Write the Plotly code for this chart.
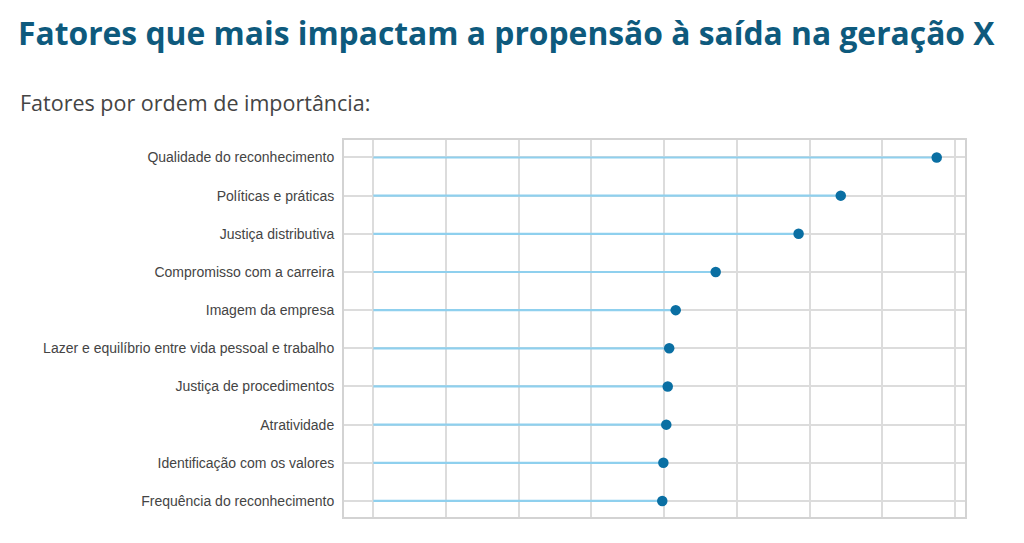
import plotly.graph_objects as go

categories = [
    "Qualidade do reconhecimento",
    "Políticas e práticas",
    "Justiça distributiva",
    "Compromisso com a carreira",
    "Imagem da empresa",
    "Lazer e equilíbrio entre vida pessoal e trabalho",
    "Justiça de procedimentos",
    "Atratividade",
    "Identificação com os valores",
    "Frequência do reconhecimento",
]
importance = [0.155, 0.1286, 0.117, 0.0942, 0.0832, 0.0814, 0.0810, 0.0806, 0.0798, 0.0795]
grid_ticks = [0, 0.02, 0.04, 0.06, 0.08, 0.10, 0.12, 0.14, 0.16]

title_text = "Fatores que mais impactam a propensão à saída na geração X"
subtitle_text = "Fatores por ordem de importância:"

OFF = 8  # page body margin
W, H = 1024 - OFF, 543 - OFF
L, R, T, B = 344 - OFF, 59, 139.5 - OFF, 26

stem_x, stem_y = [], []
for c, v in zip(categories, importance):
    stem_x += [0, v, None]
    stem_y += [c, c, None]

fig = go.Figure()
fig.add_trace(go.Scatter(
    x=stem_x, y=stem_y, mode="lines",
    line=dict(color="#8fd0ee", width=2.2),
    hoverinfo="skip", showlegend=False,
))
fig.add_trace(go.Scatter(
    x=importance, y=categories, mode="markers",
    marker=dict(color="#0a6fa3", size=10.5, line=dict(width=0)),
    showlegend=False,
))

fig.update_layout(
    width=W, height=H,
    margin=dict(l=L, r=R, t=T, b=B),
    paper_bgcolor="white", plot_bgcolor="white",
    title=dict(
        text=f"<b>{title_text}</b>",
        font=dict(family="Open Sans", size=31.8, color="#0e5a7d"),
        xref="container", yref="container",
        x=(18 - OFF) / W, y=1 - (34 - OFF) / H, xanchor="left", yanchor="middle",
    ),
    annotations=[dict(
        text=subtitle_text, xref="paper", yref="paper",
        x=(18 - OFF - L) / (W - L - R), y=(H - B - (102 - OFF)) / (H - T - B),
        xanchor="left", yanchor="middle", showarrow=False,
        font=dict(family="Open Sans", size=21.5, color="#444444"),
    )],
    xaxis=dict(
        range=[-0.00806, 0.16278], tickvals=grid_ticks, showticklabels=False,
        showgrid=True, gridcolor="#dcdcdc", gridwidth=1.5, zeroline=False,
        showline=True, mirror=True, linecolor="#d3d3d3", linewidth=2, ticks="",
    ),
    yaxis=dict(
        type="category", categoryorder="array", categoryarray=categories,
        range=[9.42, -0.458],
        showgrid=True, gridcolor="#dcdcdc", gridwidth=1.5, zeroline=False,
        showline=True, mirror=True, linecolor="#d3d3d3", linewidth=2, ticks="",
        tickfont=dict(family="Liberation Sans", size=14, color="#444444"),
        ticklabelstandoff=5,
    ),
)

fig.write_html("out.html")
